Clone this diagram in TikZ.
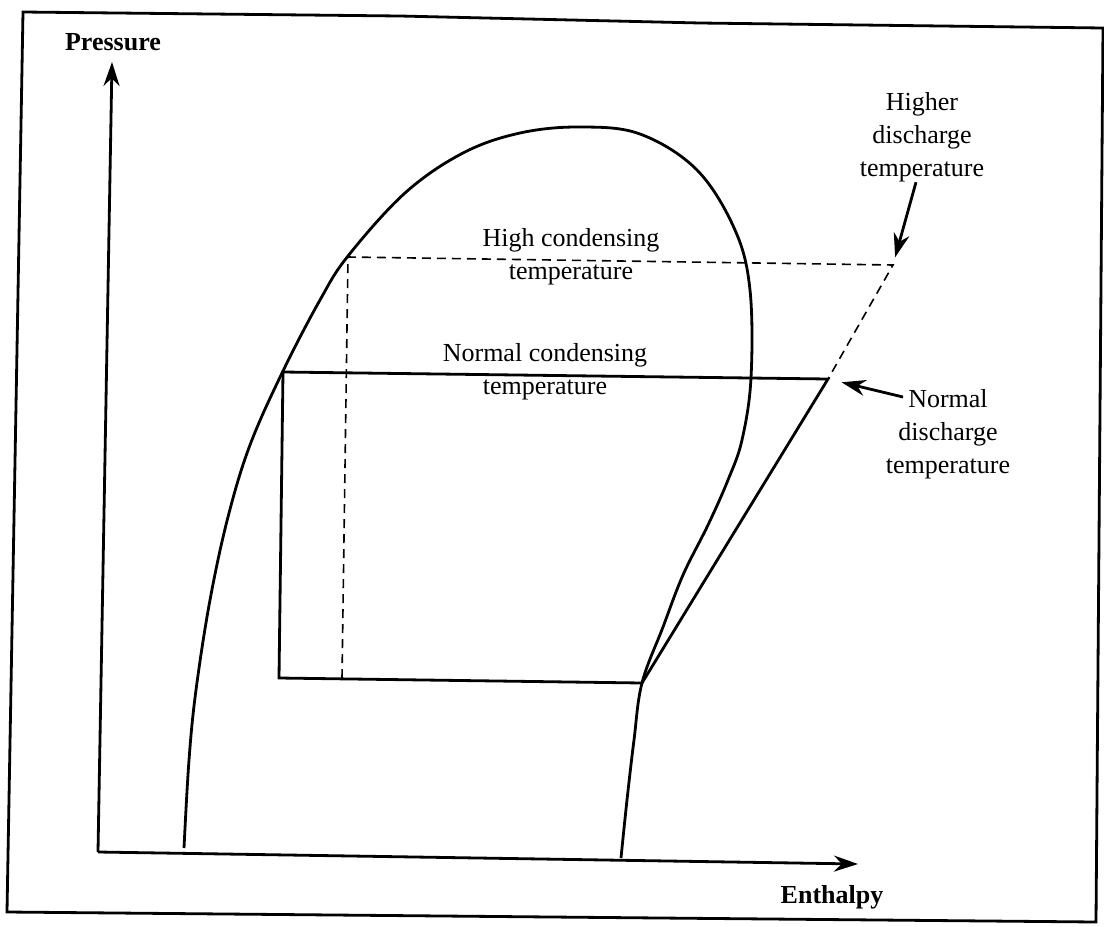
\documentclass[tikz,border=0pt]{standalone}
\usepackage{fontspec}
\setmainfont{Liberation Serif}
\usetikzlibrary{arrows.meta}

\begin{document}
\begin{tikzpicture}
  [x=0.5pt, y=-0.5pt,
   every node/.style={font=\fontsize{13}{16.5}\selectfont, align=center, inner sep=0},
   axislabel/.style={font=\fontsize{13}{16.5}\selectfont\bfseries},
   curve/.style={line width=1.4pt, black},
   proj/.style={line width=0.8pt, dash pattern=on 4.5pt off 3pt},
   pointer/.style={line width=1.4pt, -{Stealth[length=12pt, width=8pt]}}]

  \useasboundingbox (0,0) rectangle (1104,927);
  \draw[line width=1.4pt] (23,12) -- (400,16) -- (700,23) -- (1103,28) -- (1096,922) -- (7,912) -- cycle;

  % axes
  \coordinate (origin) at (98,852);
  \coordinate (ptop) at (112,62);
  \coordinate (hend) at (858,864);
  \draw[pointer] (origin) -- (ptop);
  \draw[pointer] (origin) -- (hend);
  \node[axislabel] (pressure) at (113,42) {Pressure};
  \node[axislabel] (enthalpy) at (832,897) {Enthalpy};

  % saturation dome
  \draw[curve] plot[smooth, tension=0.6] coordinates {
    (184,848) (189,760) (196,690) (210,600) (228,517) (250,445)
    (283,371) (320,300) (348,256) (405,193)
    (463,153) (520,133) (580,127) (640,134) (697,170)
    (735,230) (750,290) (751,378) (742,440) (728,480) (708,525)
    (683,575) (663,627) (642,683) (634,740) (627,800) (621,858)};

  % normal condensing cycle
  \coordinate (n1) at (283,372);
  \coordinate (n2) at (828,379);
  \coordinate (n3) at (642,683);
  \coordinate (n4) at (279,678);
  \draw[curve] (n4) -- (n1) -- (n2) -- (n3) -- cycle;

  % high condensing cycle
  \coordinate (h1) at (348,257);
  \coordinate (h2) at (893,265);
  \coordinate (h4) at (342,678);
  \draw[proj] (h4) -- (h1) -- (h2) -- (n2);

  % labels
  \node (highcond) at (571,257) {High condensing\\temperature};
  \node (normcond) at (545,372) {Normal condensing\\temperature};
  \node (higherdis) at (922,137) {Higher\\discharge\\temperature};
  \node (normdis) at (948,434) {Normal\\discharge\\temperature};

  \coordinate (normtail) at (903,397);
  \draw[pointer, shorten >=4pt] ([xshift=-3pt]higherdis.south) -- (h2);
  \draw[pointer, shorten >=7pt] (normtail) -- (n2);
\end{tikzpicture}
\end{document}
